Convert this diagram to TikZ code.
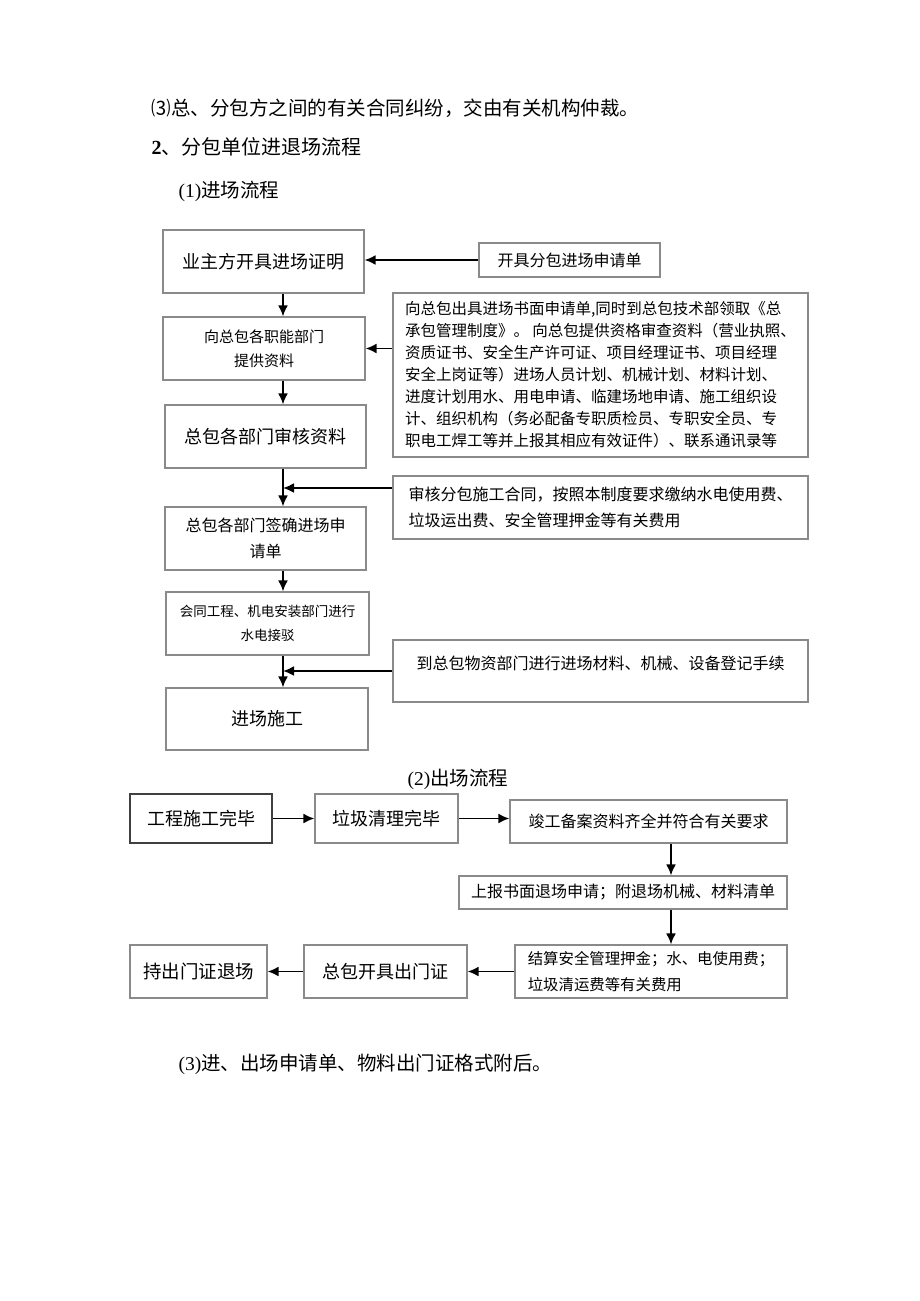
\documentclass[tikz,border=0pt]{standalone}
\usepackage{fontspec}
\setmainfont{Liberation Serif}
\newfontfamily\cjk{Noto Sans CJK SC}
\usetikzlibrary{arrows.meta,positioning}
\definecolor{boxgray}{HTML}{8A8A8A}
\newcommand{\zihao}[2]{\fontsize{#1}{#2}\selectfont}

\begin{document}
\begin{tikzpicture}[x=1pt,y=-1pt,
  box/.style={draw=boxgray,line width=1.2pt,rectangle,inner sep=0pt,align=center},
  arr/.style={line width=1.9pt,-{Latex[length=11pt,width=10pt]}}]
\useasboundingbox[fill=white] (0,0) rectangle (920,1301);

% text above the charts
\node[anchor=base west,font=\cjk\zihao{19.5}{24}] (zhongcai) at (148,115.5) {⑶总、分包方之间的有关合同纠纷，交由有关机构仲裁。};
\node[anchor=base west,font=\zihao{20}{24}] (biaoti) at (148,154) {\textbf{2}{\cjk 、分包单位进退场流程}};
\node[anchor=base west,font=\zihao{19.5}{24}] (jinchang) at (175,197) {(1){\cjk 进场流程}};

% (1) entry
\node[box,minimum width=201pt,minimum height=63pt,font=\cjk\zihao{18}{22}] (zhengming) at (263.5,261.5) {业主方开具进场证明};
\node[box,minimum width=181pt,minimum height=34pt,font=\cjk\zihao{16}{20}] (shenqingdan) at (569.5,260) {开具分包进场申请单};
\node[box,minimum width=202pt,minimum height=63pt,font=\cjk\zihao{15}{24}] (tigong) at (264,348.5) {向总包各职能部门\\提供资料};
\node[box,minimum width=415pt,minimum height=164pt,align=left,font=\cjk\zihao{15.5}{22}] (ziliao) at (600.5,375) {向总包出具进场书面申请单,同时到总包技术部领取《总\\承包管理制度》。 向总包提供资格审查资料（营业执照、\\资质证书、安全生产许可证、项目经理证书、项目经理\\安全上岗证等）进场人员计划、机械计划、材料计划、\\进度计划用水、用电申请、临建场地申请、施工组织设\\计、组织机构（务必配备专职质检员、专职安全员、专\\职电工焊工等并上报其相应有效证件）、联系通讯录等};
\node[box,minimum width=201pt,minimum height=63pt,font=\cjk\zihao{18}{22}] (shenhe) at (265.5,436.5) {总包各部门审核资料};
\node[box,minimum width=415pt,minimum height=63pt,align=left,font=\cjk\zihao{16}{26}] (hetong) at (600.5,507.5) {审核分包施工合同，按照本制度要求缴纳水电使用费、\\垃圾运出费、安全管理押金等有关费用};
\node[box,minimum width=201pt,minimum height=63pt,font=\cjk\zihao{16}{26}] (qianque) at (265.5,538.5) {总包各部门签确进场申\\请单};
\node[box,minimum width=203pt,minimum height=63pt,font=\cjk\zihao{13.5}{24}] (jiebo) at (267.5,623.5) {会同工程、机电安装部门进行\\水电接驳};
\node[box,minimum width=415pt,minimum height=62pt,font=\cjk\zihao{16}{16}] (dengji) at (600.5,671) {到总包物资部门进行进场材料、机械、设备登记手续\\\mbox{}};
\node[box,minimum width=202pt,minimum height=62pt,font=\cjk\zihao{18}{22}] (shigong) at (267,719) {进场施工};

\coordinate (zhu) at (283,0);
\draw[arr] (shenqingdan.west) -- (shenqingdan.west -| zhengming.east);
\draw[arr] (zhengming.south -| zhu) -- (tigong.north -| zhu);
\draw[arr] (ziliao.west |- tigong.east) -- (tigong.east);
\draw[arr] (tigong.south -| zhu) -- (shenhe.north -| zhu);
\draw[arr] (shenhe.south -| zhu) -- (qianque.north -| zhu);
\coordinate (hetongkou) at ([yshift=19.5pt]hetong.west);
\draw[arr] (hetongkou) -- (hetongkou -| zhu);
\draw[arr] (qianque.south -| zhu) -- (jiebo.north -| zhu);
\draw[arr] (jiebo.south -| zhu) -- (shigong.north -| zhu);
\draw[arr] (dengji.west) -- (dengji.west -| zhu);

% (2) exit
\node[anchor=base,font=\zihao{19.5}{24}] (chuchang) at (458,785) {(2){\cjk 出场流程}};
\node[box,draw=black!75,line width=1.9pt,minimum width=142pt,minimum height=49pt,font=\cjk\zihao{18}{22}] (wanbi) at (201,818.5) {工程施工完毕};
\node[box,minimum width=143pt,minimum height=49pt,font=\cjk\zihao{18}{22}] (qingli) at (386.5,818.5) {垃圾清理完毕};
\node[box,minimum width=277pt,minimum height=43pt,font=\cjk\zihao{16}{20}] (beian) at (648.5,821.5) {竣工备案资料齐全并符合有关要求};
\node[box,minimum width=328pt,minimum height=33pt,font=\cjk\zihao{16}{20}] (tuichang) at (623,892.5) {上报书面退场申请；附退场机械、材料清单};
\node[box,minimum width=272pt,minimum height=53pt,align=left,font=\cjk\zihao{15.4}{26}] (jiesuan) at (651,971.5) {结算安全管理押金；水、电使用费；\\垃圾清运费等有关费用};
\node[box,minimum width=163pt,minimum height=53pt,font=\cjk\zihao{18}{22}] (chumenzheng) at (385.5,971.5) {总包开具出门证};
\node[box,minimum width=137pt,minimum height=53pt,font=\cjk\zihao{18.5}{22}] (likai) at (198.5,971.5) {持出门证退场};

\coordinate (shu) at (671,0);
\draw[arr] (wanbi.east) -- (qingli.west);
\draw[arr] (qingli.east) -- (qingli.east -| beian.west);
\draw[arr] (beian.south -| shu) -- (tuichang.north -| shu);
\draw[arr] (tuichang.south -| shu) -- (jiesuan.north -| shu);
\draw[arr] (jiesuan.west) -- (chumenzheng.east);
\draw[arr] (chumenzheng.west) -- (likai.east);

\node[anchor=base west,font=\zihao{19.5}{24}] (fuhou) at (175,1070) {(3){\cjk 进、出场申请单、物料出门证格式附后。}};
\end{tikzpicture}
\end{document}
